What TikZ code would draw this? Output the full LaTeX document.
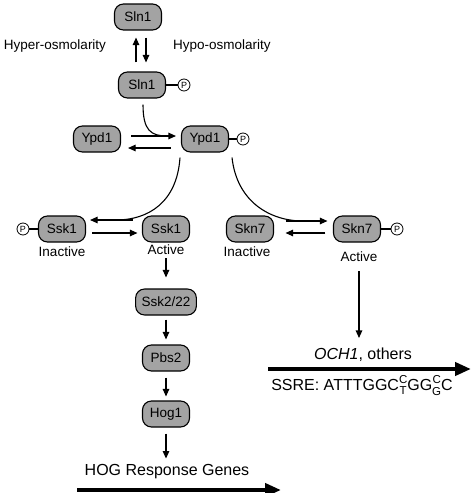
\documentclass[tikz,border=0pt]{standalone}
\usepackage{fontspec}
\setmainfont{Liberation Sans}
\usetikzlibrary{arrows.meta, positioning, calc}
\definecolor{protgray}{HTML}{A3A3A3}
\newcommand{\wob}[2]{{\fontsize{11.5}{10.5}\selectfont\begin{tabular}[c]{@{}c@{}}#1\\#2\end{tabular}}}
\tikzset{
  prot/.style  = {rectangle, draw, line width=1.1pt, rounded corners=9pt,
                  fill=protgray, font=\fontsize{13.5}{15}\selectfont,
                  minimum width=47pt, minimum height=26pt, inner xsep=6pt},
  phos/.style  = {circle, draw, line width=0.8pt, inner sep=0pt,
                  minimum size=12pt, font=\fontsize{9}{9}\selectfont},
  lbl/.style   = {font=\fontsize{13.5}{15}\selectfont, inner sep=1pt},
  big/.style   = {font=\fontsize{16}{18}\selectfont, inner sep=1pt},
  arr/.style   = {-{Triangle[length=7.5pt, width=6.5pt]}, line width=1.1pt},
  link/.style  = {line width=1.1pt},
  fat/.style   = {-{Triangle[length=16pt, width=13pt]}, line width=4pt},
}

\begin{document}
\begin{tikzpicture}[x=1pt, y=-1pt]
  \useasboundingbox (0,0) rectangle (474,493);

  % Sln1 sensor
  \node[prot] (sln)  at (138,17) {Sln1};
  \node[prot] (slnp) at (142,85) {Sln1};
  \node[phos] (slnP) at (184,85) {P};
  \draw[link] (slnp) -- (slnP);
  \draw[arr, shorten <=9pt, shorten >=7pt] ([xshift=-6pt]slnp.north) -- ([xshift=-2pt]sln.south);
  \draw[arr, shorten <=7pt, shorten >=9pt] ([xshift=8pt]sln.south) -- ([xshift=4pt]slnp.north);
  \node[lbl] (hyper) at (55,46) {Hyper-osmolarity};
  \node[lbl, anchor=west] (hypo) at (172,46) {Hypo-osmolarity};

  % Ypd1
  \node[prot] (ypd)  at (97,139)  {Ypd1};
  \node[prot] (ypdp) at (205,139) {Ypd1};
  \node[phos] (ypdP) at (243,139) {P};
  \draw[link] (ypdp) -- (ypdP);
  \draw[link] ($(slnp.south)+(1,6)$) .. controls +(0,26) and +(-16,0) .. ($(ypdp.west)+(-14,-3)$);
  \draw[arr, shorten <=10pt, shorten >=5pt] ([yshift=3pt]ypd.east) -- ([yshift=3pt]ypdp.west);
  \draw[arr, shorten <=10pt, shorten >=7pt] ([yshift=-9pt]ypdp.west) -- ([yshift=-9pt]ypd.east);

  % Ssk1 / Skn7
  \node[prot] (sskp) at (62,229)  {Ssk1};
  \node[phos] (sskP) at (23,229)  {P};
  \draw[link] (sskP) -- (sskp);
  \node[prot] (ssk)  at (166,229) {Ssk1};
  \node[prot] (skn)  at (250,229) {Skn7};
  \node[prot] (sknp) at (357,229) {Skn7};
  \node[phos] (sknP) at (397,229) {P};
  \draw[link] (sknp) -- (sknP);

  \draw[link] ($(ypdp.south)+(-25,5)$) .. controls +(-3,45) and +(32,0) .. ($(sskp.east)+(30,-9)$);
  \draw[arr, shorten <=9pt, shorten >=4pt] ([yshift=9pt]ssk.west) -- ([yshift=9pt]sskp.east);
  \draw[arr, shorten <=6pt, shorten >=4.5pt] ([yshift=-4pt]sskp.east) -- ([yshift=-4pt]ssk.west);

  \draw[link] ($(ypdp.south)+(27,5)$) .. controls +(5,45) and +(-32,0) .. ($(sknp.west)+(-30,-8)$);
  \draw[arr, shorten <=11.5pt, shorten >=5.5pt] ([yshift=8pt]skn.east) -- ([yshift=8pt]sknp.west);
  \draw[arr, shorten <=7.5pt, shorten >=11.5pt] ([yshift=-4pt]sknp.west) -- ([yshift=-4pt]skn.east);

  \node[lbl] (inact1) at (62,252)  {Inactive};
  \node[lbl] (act1)   at (166,250) {Active};
  \node[lbl] (inact2) at (247,252) {Inactive};
  \node[lbl] (act2)   at (359,257) {Active};

  % HOG cascade
  \node[prot] (ssk2) at (166,302) {Ssk2/22};
  \node[prot] (pbs)  at (166,358) {Pbs2};
  \node[prot] (hog)  at (166,414) {Hog1};
  \node[big] (genes) at (167,472) {HOG Response Genes};
  \draw[arr, shorten <=2pt, shorten >=11pt] (act1.south) -- (ssk2.north);
  \draw[arr, shorten <=4pt, shorten >=5pt] (ssk2) -- (pbs);
  \draw[arr, shorten <=6pt, shorten >=4pt] (pbs) -- (hog);
  \draw[arr, shorten <=6pt, shorten >=5pt] (hog.south) -- (genes.north -| hog.south);
  \coordinate (hogL) at (77,490);
  \coordinate (hogR) at (281,490);
  \draw[fat] (hogL) -- (hogR);

  % Skn7 targets
  \node[big] (och)  at (363,355) {\textit{OCH1}, others};
  \node[big] (ssre) at (362,387) {SSRE: ATTTGGC\wob{C}{T}GG\wob{C}{G}C};
  \draw[arr, shorten <=8pt, shorten >=9pt] (act2.south) -- (act2.south |- och.north);
  \coordinate (ochL) at (268,369);
  \coordinate (ochR) at (471,369);
  \draw[fat] (ochL) -- (ochR);
\end{tikzpicture}
\end{document}
